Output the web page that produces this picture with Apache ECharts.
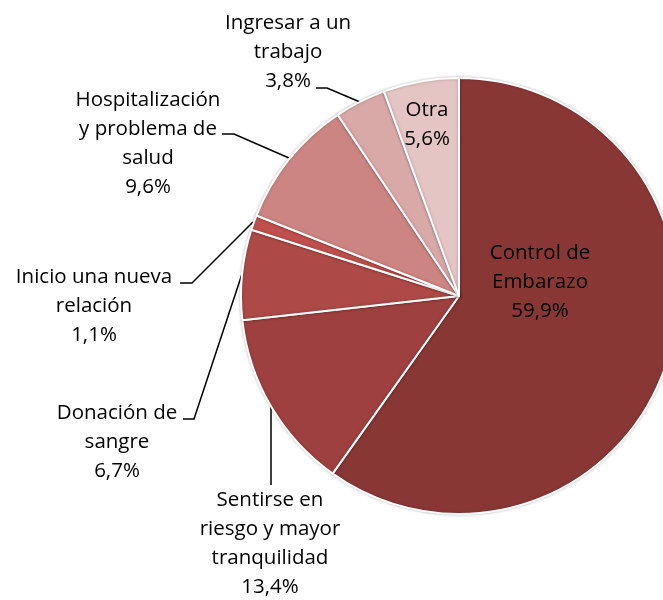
<!DOCTYPE html>
<html>
<head>
<meta charset="utf-8">
<script src="https://cdn.jsdelivr.net/npm/echarts@6/dist/echarts.min.js"></script>
<style>
  html, body { margin: 0; padding: 0; background: #ffffff; }
  #chart { width: 663px; height: 600px; }
</style>
</head>
<body>
<div id="chart"></div>
<script>
// Reasons, in clockwise order starting at 12 o'clock
const categories = [
  'Control de\nEmbarazo',
  'Sentirse en\nriesgo y mayor\ntranquilidad',
  'Donación de\nsangre',
  'Inicio una nueva\nrelación',
  'Hospitalización\ny problema de\nsalud',
  'Ingresar a un\ntrabajo',
  'Otra'
];
const percentages = [59.9, 13.4, 6.7, 1.1, 9.6, 3.8, 5.6];
const sliceColors = ['#893735', '#9e403f', '#ad4946', '#bf504d', '#cd8583', '#d9a9a8', '#e5c4c4'];

// Label block centres and leader-line routes (pixels)
const labelSpots = [
  { x: 540, y: 282 },
  { x: 270, y: 544, line: [[271, 485], [271, 406]] },
  { x: 117, y: 442, line: [[183, 419], [194, 419], [242, 274]] },
  { x: 94,  y: 306, line: [[180, 283], [192, 283], [253, 222]] },
  { x: 148, y: 144, line: [[222, 134], [234, 134], [289, 158]] },
  { x: 288, y: 52,  line: [[316, 88], [327, 88], [360, 102]] },
  { x: 427, y: 125 }
];

const fmt = v => v.toFixed(1).replace('.', ',') + '%';

const chart = echarts.init(document.getElementById('chart'));
chart.setOption({
  animation: false,
  series: [{
    type: 'pie',
    center: [459, 296],
    radius: 218,
    startAngle: 90,
    clockwise: true,
    avoidLabelOverlap: false,
    itemStyle: {
      borderColor: '#ffffff',
      borderWidth: 2,
      shadowColor: 'rgba(0,0,0,0.25)',
      shadowBlur: 3
    },
    label: {
      show: true,
      position: 'outside',
      fontFamily: 'Open Sans',
      fontSize: 20.5,
      lineHeight: 29,
      color: '#000000',
      align: 'center',
      formatter: p => p.name + '\n' + fmt(p.value)
    },
    labelLine: {
      show: true,
      lineStyle: { color: '#000000', width: 1.5 }
    },
    labelLayout: params => {
      const s = labelSpots[params.dataIndex];
      const out = { x: s.x, y: s.y, align: 'center', verticalAlign: 'middle' };
      if (s.line) out.labelLinePoints = s.line;
      return out;
    },
    data: categories.map((name, i) => ({
      name: name,
      value: percentages[i],
      itemStyle: { color: sliceColors[i] },
      labelLine: { show: !!labelSpots[i].line }
    }))
  }]
});
</script>
</body>
</html>
